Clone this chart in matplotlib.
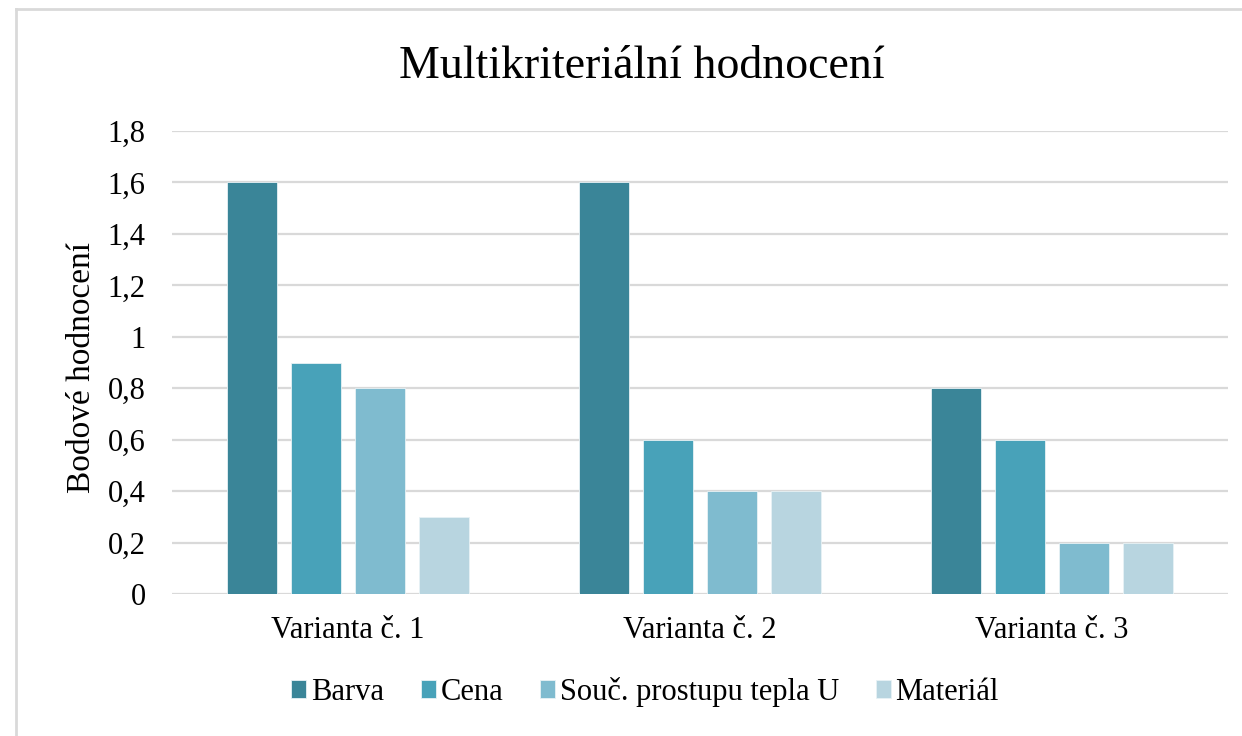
import numpy as np
import matplotlib.pyplot as plt
from matplotlib.lines import Line2D

plt.rcParams['font.family'] = ['Liberation Serif', 'DejaVu Serif']

# data
varianty = ["Varianta č. 1", "Varianta č. 2", "Varianta č. 3"]
kriteria = ["Barva", "Cena", "Souč. prostupu tepla U", "Materiál"]
barva = [1.6, 1.6, 0.8]
cena = [0.9, 0.6, 0.6]
souc_u = [0.8, 0.4, 0.2]
material = [0.3, 0.4, 0.2]
yticks = [0, 0.2, 0.4, 0.6, 0.8, 1, 1.2, 1.4, 1.6, 1.8]

barvy = ["#3a8598", "#48a2b9", "#7fbbcf", "#b8d5e0"]
serie = [barva, cena, souc_u, material]

fig = plt.figure(figsize=(12.42, 7.36), dpi=100)
ax = fig.add_axes([172 / 1242, 1 - 594 / 736, (1228 - 172) / 1242, (594 - 131) / 736])

x = np.arange(len(varianty))
step = 0.182
width = 0.142
for i, (vals, c) in enumerate(zip(serie, barvy)):
    ax.bar(x + (i - 1.5) * step, vals, width, color=c, label=kriteria[i],
           edgecolor="#e8f2f5", linewidth=0.6, zorder=3)

ax.set_xlim(-0.5, 2.5)
ax.set_ylim(0, 1.8)
ax.set_yticks(yticks)
ax.set_yticklabels([str(t).replace(".", ",") for t in yticks], fontsize=22)
ax.set_xticks(x)
ax.set_xticklabels(varianty, fontsize=22)
ax.tick_params(axis="both", length=0)
ax.tick_params(axis="x", pad=16)
ax.tick_params(axis="y", pad=19)
ax.grid(axis="y", color="#d9d9d9", linewidth=1.6, zorder=0)
for s in ax.spines.values():
    s.set_visible(False)

ax.set_ylabel("Bodové hodnocení", fontsize=24)
ax.yaxis.set_label_coords(-0.071, 0.49)
fig.text(0.5165, 1 - 67 / 736, "Multikriteriální hodnocení", ha="center", va="center", fontsize=33)

ax.legend(loc="center", bbox_to_anchor=(645 / 1242, 1 - 692 / 736), bbox_transform=fig.transFigure,
          ncol=4, frameon=False, fontsize=22, handlelength=0.5, handleheight=0.5,
          handletextpad=0.15, columnspacing=1.2)

# outer chart border (left and top only visible)
fig.add_artist(Line2D([16 / 1242, 16 / 1242], [0, 1 - 9 / 736], transform=fig.transFigure,
                      color="#d9d9d9", linewidth=2))
fig.add_artist(Line2D([16 / 1242, 1], [1 - 9 / 736, 1 - 9 / 736], transform=fig.transFigure,
                      color="#d9d9d9", linewidth=2))

fig.savefig("out.png", dpi=100)
